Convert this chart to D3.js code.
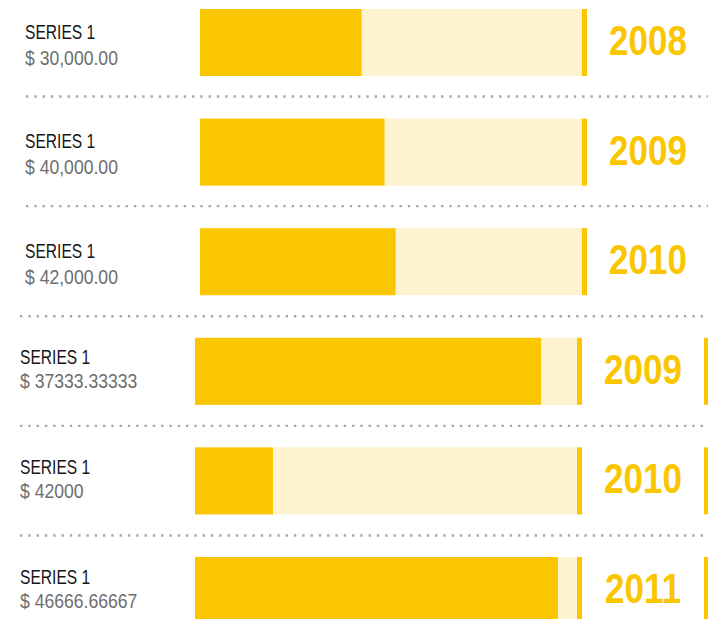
<!DOCTYPE html>
<html>
<head>
<meta charset="utf-8">
<script src="https://cdn.jsdelivr.net/npm/d3@7"></script>
<style>
  body { margin: 0; background: #fff; }
  svg { display: block; }
  .narrow { font-family: 'Liberation Sans', Arial, sans-serif; }
</style>
</head>
<body>
<div id="chart"></div>
<script>
// data
var years = ["2008", "2009", "2010", "2009", "2010", "2011"];
var seriesNames = ["SERIES 1", "SERIES 1", "SERIES 1", "SERIES 1", "SERIES 1", "SERIES 1"];
var values = [30000, 40000, 42000, 37333.33333, 42000, 46666.66667];
// how much of the track each bar fills (percent)
var fills = [42.3, 48.3, 51.2, 90.6, 20.4, 95.0];
// which block each row belongs to (0 = top block, 1 = bottom block)
var panels = [0, 0, 0, 1, 1, 1];

var width = 708, height = 619;
var barH = 67, trackW = 382, endW = 5;

var svg = d3.select("#chart")
  .append("svg")
    .attr("width", width)
    .attr("height", height);

// row positions
var rowY = d3.scaleLinear()
  .domain([0, 5])
  .range([9, 557]);

// fill scale along the track
var x = d3.scaleLinear()
  .domain([0, 100])
  .range([0, trackW]);

var fmtTop = d3.format(",.2f");
var fmtBottom = d3.format(".5~f");

var rows = years.map(function(y, i) {
  return {year: y, name: seriesNames[i], value: values[i], fill: fills[i], panel: panels[i], i: i};
});

var row = svg.selectAll("g.row")
  .data(rows)
  .enter()
  .append("g")
    .attr("class", "row")
    .attr("transform", function(d) {
      var dx = d.panel == 0 ? 5 : 0;
      return "translate(" + dx + "," + rowY(d.i) + ")";
    });

// dotted separators: under the row in the top block, above the row in the bottom block
row.filter(function(d) { return d.panel == 0 && d.i < 2; })
  .append("line")
    .attr("x1", 21).attr("x2", 710)
    .attr("y1", barH + 20.5).attr("y2", barH + 20.5);
row.filter(function(d) { return d.panel == 1; })
  .append("line")
    .attr("x1", 20).attr("x2", 710)
    .attr("y1", -21.5).attr("y2", -21.5);
svg.selectAll("line")
  .attr("stroke", "#a8a8a8")
  .attr("stroke-width", 2.4)
  .attr("stroke-dasharray", "2.4 5.9");

// track
row.append("rect")
  .attr("x", 195)
  .attr("y", 0)
  .attr("width", x(100))
  .attr("height", barH)
  .attr("fill", "#fdf3cf");

// value bar
row.append("rect")
  .attr("x", 195)
  .attr("y", 0)
  .attr("width", function(d) { return x(d.fill); })
  .attr("height", barH)
  .attr("fill", "#fac600");

// end marker
row.append("rect")
  .attr("x", 195 + x(100))
  .attr("y", 0)
  .attr("width", endW)
  .attr("height", barH)
  .attr("fill", "#fac600");

// start of the next block peeking in on the right
row.filter(function(d) { return d.panel == 1; })
  .append("rect")
    .attr("x", 704)
    .attr("y", 0)
    .attr("width", 5)
    .attr("height", barH)
    .attr("fill", "#fac600");

// labels (squeezed horizontally to mimic a condensed face)
row.append("text")
  .attr("class", "narrow")
  .attr("transform", function(d) {
    return "translate(20," + (d.panel == 0 ? 29.5 : 26.5) + ") scale(0.78,1)";
  })
  .attr("font-size", "20px")
  .attr("fill", "#161616")
  .text(function(d) { return d.name; });

row.append("text")
  .attr("class", "narrow")
  .attr("transform", function(d) {
    return "translate(20," + (d.panel == 0 ? 55.5 : 50.5) + ") scale(0.88,1)";
  })
  .attr("font-size", "20px")
  .attr("fill", "#6e6e6e")
  .text(function(d) {
    return "$ " + (d.panel == 0 ? fmtTop(d.value) : fmtBottom(d.value));
  });

// year
row.append("text")
  .attr("class", "narrow")
  .attr("transform", "translate(643,46) scale(0.835,1)")
  .attr("text-anchor", "middle")
  .attr("font-size", "42px")
  .attr("font-weight", "bold")
  .attr("fill", "#f9c600")
  .text(function(d) { return d.year; });
</script>
</body>
</html>
